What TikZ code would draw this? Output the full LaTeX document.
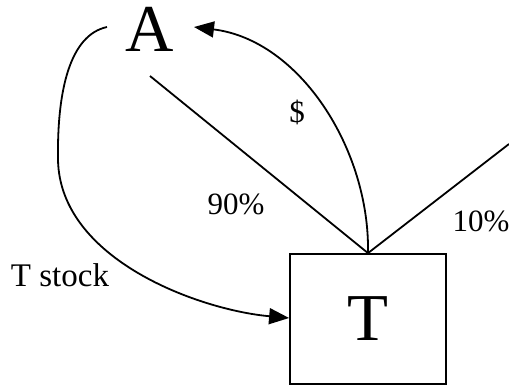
\documentclass[tikz,border=0pt]{standalone}
\usepackage{fontspec}
\setmainfont{Liberation Serif}
\usetikzlibrary{arrows.meta}
\begin{document}
\begin{tikzpicture}[x=1pt,y=-1pt,
  conn/.style={line width=1.8pt},
  arr/.style={conn,-{Triangle[length=20pt,width=16pt]}},
  lbl/.style={font=\fontsize{31}{31}\selectfont,inner sep=0pt},
  big/.style={font=\fontsize{67}{67}\selectfont,inner sep=0pt}]
\useasboundingbox (0,0) rectangle (509,386);
\node[big] (A) at (150,29) {A};
\node[draw,line width=1.8pt,minimum width=156pt,minimum height=130pt,inner sep=0pt,font=\fontsize{67}{67}\selectfont] (T) at (368,319) {T};
\coordinate (aend) at (150,76);
\coordinate (rend) at (509,144);
\coordinate (ltop) at (107,27);
\coordinate (dtip) at (194,27);
\draw[conn] (T.north) -- (aend);
\draw[conn] (T.north) -- (rend);
\draw[arr] (T.north) .. controls (370,150) and (300,40) .. (dtip);
\draw[arr] (ltop) .. controls (70,35) and (57,90) .. (58,160) .. controls (60,260) and (200,310) .. (T.west |- 0,318);
\node[lbl] (dollar) at (297,112) {\$};
\node[lbl] (p90) at (236,204) {90\%};
\node[lbl] (p10) at (481,221) {10\%};
\node[lbl,font=\fontsize{33}{33}\selectfont] (stock) at (60,275) {T stock};
\end{tikzpicture}
\end{document}
